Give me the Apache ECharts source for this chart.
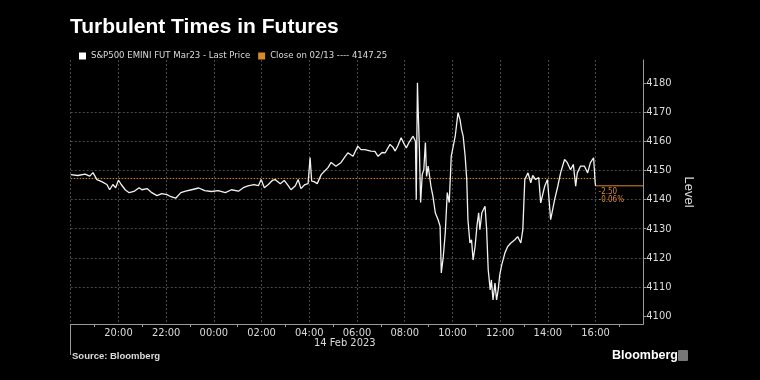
<!DOCTYPE html>
<html>
<head>
<meta charset="utf-8">
<script src="https://cdn.jsdelivr.net/npm/echarts@6/dist/echarts.min.js"></script>
<style>
html,body{margin:0;padding:0;background:#000;}
#c{width:760px;height:380px;}
</style>
</head>
<body>
<div id="c"></div>
<script>
const seriesName = "S&P500 EMINI FUT Mar23 - Last Price";
const closeName = "Close on 02/13 ---- 4147.25";
const closeValue = 4147.25;
const lastValue = 4144.75;
const xTickLabels = ["20:00","22:00","00:00","02:00","04:00","06:00","08:00","10:00","12:00","14:00","16:00"];
const yTickValues = [4100,4110,4120,4130,4140,4150,4160,4170,4180];
const dateLabel = "14 Feb 2023";
const times = ["18:00","18:18","18:36","18:48","18:56","19:06","19:18","19:31","19:38","19:46",
"19:53","20:00","20:07","20:17","20:27","20:39","20:52","20:59","21:12","21:24",
"21:37","21:49","22:02","22:12","22:24","22:37","22:49","23:04","23:22","23:37",
"23:54","00:11","00:29","00:44","01:02","01:14","01:26","01:41","01:52","01:59",
"02:07","02:17","02:27","02:34","02:47","02:57","03:07","03:14","03:25","03:32",
"03:39","03:49","03:57","04:02","04:06","04:12","04:20","04:30","04:40","04:47",
"04:55","05:07","05:20","05:30","05:37","05:50","06:02","06:10","06:20","06:35",
"06:45","06:53","07:03","07:11","07:23","07:31","07:36","07:43","07:51","07:59",
"08:04","08:11","08:16","08:21","08:27","08:29","08:32","08:34","08:37","08:40",
"08:44","08:48","08:52","08:55","08:59","09:06","09:11","09:17","09:24","09:29",
"09:32","09:37","09:42","09:47","09:52","09:57","10:07","10:14","10:19","10:23",
"10:27","10:32","10:36","10:39","10:44","10:48","10:52","10:57","11:02","11:06",
"11:09","11:14","11:22","11:26","11:30","11:35","11:38","11:42","11:47","11:51",
"11:55","11:59","12:04","12:12","12:19","12:27","12:37","12:44","12:52","12:57",
"13:02","13:10","13:17","13:22","13:29","13:37","13:42","13:52","13:59","14:07",
"14:17","14:25","14:32","14:42","14:49","14:57","15:04","15:10","15:14","15:22",
"15:32","15:40","15:47","15:55","15:59","16:00"];
const prices = [4148.6,4148.3,4148.8,4148.1,4149.3,4146.9,4146.2,4145.2,4143.4,4145.2,
4144.1,4146.7,4145.2,4143.4,4142.4,4142.8,4144.1,4143.4,4143.8,4142.4,
4141.4,4142.1,4141.7,4141.0,4140.5,4142.4,4142.9,4143.4,4144.0,4143.1,
4142.8,4143.1,4142.4,4143.4,4142.9,4144.1,4144.7,4145.2,4144.8,4146.9,
4144.1,4145.2,4146.6,4146.9,4145.5,4146.6,4144.8,4143.4,4144.8,4146.9,
4143.8,4145.2,4145.5,4154.5,4146.4,4146.2,4145.5,4148.6,4150.0,4151.0,
4152.8,4151.5,4152.8,4154.8,4156.1,4154.9,4158.4,4157.2,4157.2,4156.7,
4156.6,4154.9,4156.2,4156.1,4159.0,4157.9,4156.7,4158.6,4161.3,4159.0,
4157.8,4159.7,4160.1,4161.8,4160.1,4140.0,4180.2,4170.0,4157.2,4139.0,
4148.6,4150.3,4159.6,4148.0,4151.5,4144.6,4141.1,4135.4,4133.1,4130.8,
4114.8,4120.4,4128.6,4142.4,4139.0,4154.9,4161.8,4169.9,4167.6,4164.1,
4161.8,4154.9,4146.9,4133.1,4125.1,4126.2,4119.3,4123.9,4131.4,4135.5,
4129.7,4135.5,4137.7,4129.7,4115.9,4109.0,4112.4,4105.5,4111.3,4105.5,
4109.0,4114.1,4117.6,4121.7,4123.9,4125.1,4126.2,4127.3,4125.1,4129.7,
4146.9,4149.2,4145.8,4148.3,4146.9,4147.6,4138.9,4144.6,4146.9,4133.1,
4140.0,4144.6,4149.2,4153.8,4152.7,4150.3,4152.1,4144.6,4149.2,4151.5,
4151.5,4149.2,4152.7,4154.4,4145.8,4144.75];

function hoursSinceStart(t){
  const p = t.split(":");
  const h = (+p[0]) + (+p[1])/60;
  return h >= 18 ? h - 18 : h + 6;
}
const lineData = times.map((t,i)=>[hoursSinceStart(t), prices[i]]);
const endX = hoursSinceStart(times[times.length-1]);
const diff = lastValue - closeValue;
const pct = diff / closeValue * 100;
const changeText = diff.toFixed(2) + "\n" + pct.toFixed(2) + "%";

const orange = "#d98a2b";
const txt = "#dcdcdc";
const grid = "#4a4a4a";
const axisCol = "#9a9a9a";
const narrow = "'Liberation Sans Narrow','DejaVu Sans Condensed','Liberation Sans',sans-serif";

const chart = echarts.init(document.getElementById('c'), null, {renderer:'canvas'});
chart.setOption({
  backgroundColor: '#000',
  animation: false,
  title: {
    text: "Turbulent Times in Futures",
    left: 65, top: 12,
    textStyle: {color:'#fff', fontSize: 21, fontWeight: 'bold', fontFamily: "'Liberation Sans',sans-serif"}
  },
  legend: {
    data: [seriesName, closeName],
    left: 74, top: 46,
    icon: 'rect', itemWidth: 7, itemHeight: 7, itemGap: 8,
    textStyle: {color: txt, fontSize: 9.5, fontFamily: narrow}
  },
  grid: {left: 70.7, right: 116.7, top: 60, bottom: 56},
  xAxis: [{
    type: 'value', min: 0, max: 24, interval: 2,
    axisLine: {show: true, onZero: false, lineStyle: {color: axisCol, width: 1}},
    axisTick: {show: false},
    axisLabel: {color: txt, fontSize: 11, fontFamily: narrow, margin: 4, showMinLabel: false, showMaxLabel: false,
      formatter: v => { const i = Math.round(v/2) - 1; return (i >= 0 && i < xTickLabels.length) ? xTickLabels[i] : ''; }},
    splitLine: {show: true, showMaxLine: false, lineStyle: {color: grid, type: [2,2], width: 1}}
  },{
    type: 'value', min: 0, max: 24, position: 'bottom',
    axisLine: {show: false, onZero: false},
    axisLabel: {show: false},
    splitLine: {show: false},
    axisTick: {show: true, customValues: [1,3,5,7,9,11,13,15,17,19,21,23], length: 3, lineStyle: {color: axisCol}}
  },{
    type: 'value', min: 0, max: 24, position: 'bottom',
    axisLine: {show: false, onZero: false},
    axisLabel: {show: false},
    splitLine: {show: false},
    axisTick: {show: true, customValues: [0], length: 31, lineStyle: {color: axisCol}}
  }],
  yAxis: {
    type: 'value', position: 'right', min: 4097.25, max: 4188, splitNumber: 9,
    name: 'Level', nameLocation: 'middle', nameRotate: -90, nameGap: 31,
    nameTextStyle: {color: txt, fontSize: 13, fontFamily: "'Liberation Sans',sans-serif"},
    axisLine: {show: true, onZero: false, lineStyle: {color: axisCol, width: 1}},
    axisTick: {show: true, customValues: yTickValues, length: 3, lineStyle: {color: axisCol}},
    axisLabel: {show: true, customValues: yTickValues, color: txt, fontSize: 11, fontFamily: narrow, margin: 3,
      formatter: v => String(v)},
    splitLine: {show: true, showMinLine: false, showMaxLine: false, lineStyle: {color: grid, type: [2,2], width: 1}}
  },
  series: [{
    name: seriesName, type: 'line', data: lineData, showSymbol: false, symbol: 'none',
    lineStyle: {color: '#f2f2f2', width: 1.3}, itemStyle: {color: '#ffffff'}, z: 5
  },{
    name: closeName, type: 'line', data: [[0, closeValue],[endX, closeValue]], showSymbol: false, symbol: 'none',
    lineStyle: {color: orange, width: 1, type: [1.5,1.5]}, itemStyle: {color: orange}, z: 3
  },{
    name: 'lastMarker', type: 'line',
    data: [{value: [endX, lastValue], label: {show: true, formatter: changeText, position: [3, 2], align: 'left', verticalAlign: 'top',
      color: orange, fontSize: 8, lineHeight: 8, fontFamily: narrow}}, [24, lastValue]],
    symbol: 'circle', symbolSize: 0.1, showSymbol: true,
    lineStyle: {color: orange, width: 1}, itemStyle: {color: orange}, z: 4
  }],
  graphic: [
    {type: 'text', left: 314, top: 338, style: {text: dateLabel, fill: txt, font: "11px " + narrow}},
    {type: 'text', left: 72, top: 351, style: {text: "Source: Bloomberg", fill: txt, font: "bold 9.5px 'Liberation Sans',sans-serif"}},
    {type: 'text', left: 612, top: 349, style: {text: "Bloomberg", fill: '#fff', font: "bold 12.5px 'Liberation Sans',sans-serif"}},
    {type: 'rect', left: 678, top: 350, shape: {width: 10, height: 11, r: 1}, style: {fill: '#777'}}
  ]
});
</script>
</body>
</html>
